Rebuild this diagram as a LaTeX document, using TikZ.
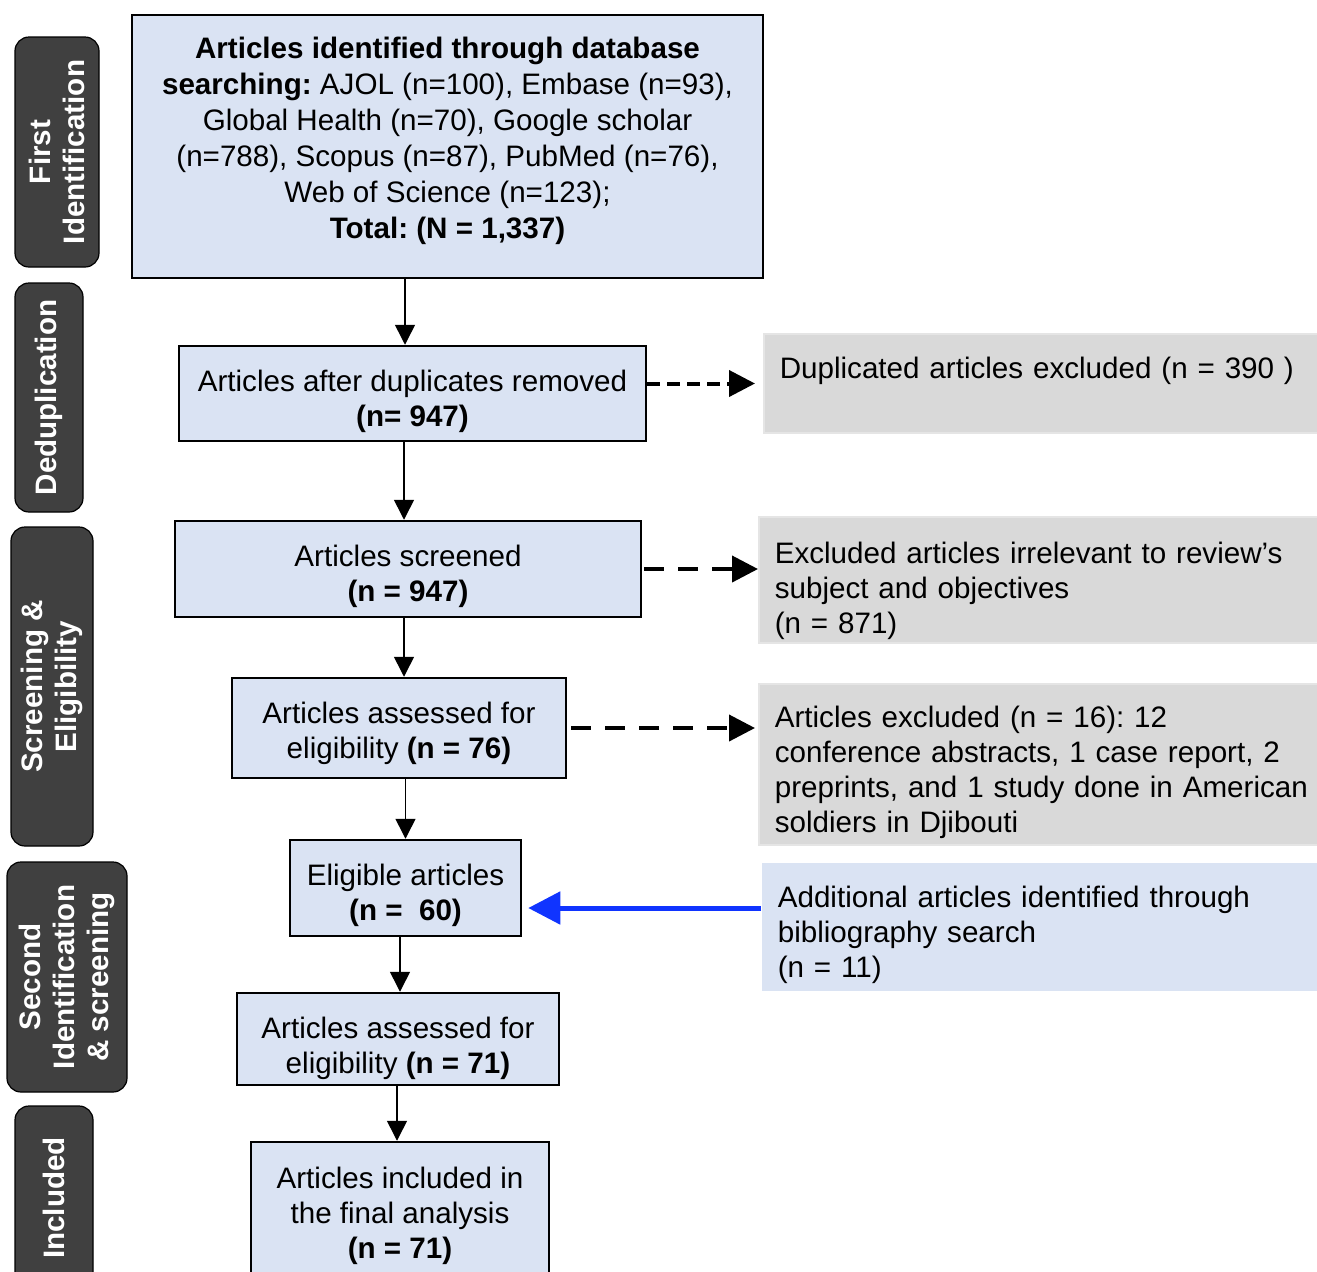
\documentclass[tikz,border=0pt]{standalone}
\usepackage{fontspec}
\setmainfont{Liberation Sans}
\usepackage{tikz}
\usetikzlibrary{positioning}
\usetikzlibrary{arrows.meta}

\definecolor{boxblue}{RGB}{218,227,243}
\definecolor{boxgrey}{RGB}{217,217,217}
\definecolor{phasegrey}{RGB}{64,64,64}
\definecolor{addblue}{RGB}{16,52,255}

\frenchspacing
\hyphenpenalty=10000
\exhyphenpenalty=10000
% pushes a first line down / a last line up
\newcommand{\toppad}[1]{\rule{0pt}{#1}}
\newcommand{\botpad}[1]{\rule[-#1]{0pt}{#1}}

\begin{document}
\begin{tikzpicture}[x=0.5pt,y=-0.5pt,
  font=\fontsize{14.8pt}{17.5pt}\selectfont,
  main box/.style={draw,line width=1.25pt,fill=boxblue,align=center,inner xsep=4pt,inner ysep=1pt},
  side box/.style={fill=boxgrey,draw=black!10,line width=0.8pt,align=left,inner xsep=8pt,inner ysep=0pt,anchor=west},
  phase/.style={draw,line width=0.6pt,fill=phasegrey,rounded corners=7pt,rotate=90,text=white,align=center,
    font=\fontsize{14.8pt}{16.8pt}\selectfont\bfseries},
  flow/.style={-{Triangle[length=10pt,width=10pt]},line width=0.75pt},
  excl/.style={-{Triangle[length=13pt,width=13pt]},line width=2pt,dash pattern=on 10pt off 7pt},
  extra/.style={-{Triangle[length=16pt,width=16pt]},line width=2.5pt,draw=addblue}]
\useasboundingbox (0,0) rectangle (1317,1271);

% phases on the left
\node[phase,minimum width=115pt,minimum height=42pt] at (57,152) (firstid) {First\\Identification};
\node[phase,minimum width=114.5pt,minimum height=34pt] at (49,397.5) (dedupphase) {Deduplication};
\node[phase,minimum width=159.5pt,minimum height=41pt] at (52,686.5) (screenphase) {Screening \&\\Eligibility};
\node[phase,minimum width=115pt,minimum height=60pt] at (67,977) (secondid) {Second\\Identification\\\& screening};
\node[phase,minimum width=92pt,minimum height=39pt] at (54,1198) (inclphase) {Included};

% main flow
\node[main box,minimum width=315.5pt,minimum height=131.5pt,font=\fontsize{14.8pt}{18pt}\selectfont] at (447.5,146.5) (ident)
  {\textbf{Articles identified through database}\\\textbf{searching:} AJOL (n=100), Embase (n=93),\\Global Health (n=70), Google scholar\\(n=788), Scopus (n=87), PubMed (n=76),\\Web of Science (n=123);\\\textbf{Total: (N = 1,337)}\botpad{8.5pt}};
\node[main box,minimum width=233.5pt,minimum height=47.5pt] at (412.5,393.5) (dedup) {\toppad{19pt}Articles after duplicates removed\\\textbf{(n= 947)}};
\node[main box,minimum width=233pt,minimum height=48pt] at (408,569) (screened) {\toppad{18pt}Articles screened\\\textbf{(n = 947)}};
\node[main box,minimum width=167pt,minimum height=50pt] at (399,728) (assessed) {\toppad{16pt}Articles assessed for\\eligibility \textbf{(n = 76)}};
\node[main box,minimum width=115.5pt,minimum height=48pt] at (405.5,888) (eligible) {\toppad{18pt}Eligible articles\\\textbf{(n =~ 60)}};
\node[main box,minimum width=161pt,minimum height=46pt] at (398,1039) (assessedb) {\toppad{20pt}Articles assessed for\\eligibility \textbf{(n = 71)}};
\node[main box,minimum width=149pt,minimum height=71pt] at (400,1213) (included) {\toppad{14pt}Articles included in\\the final analysis\\\textbf{(n = 71)}};

% side boxes
\node[side box,text width=261pt,text height=14pt,text depth=19.5pt,inner ysep=8pt] at (763,383.5) (dupex) {Duplicated articles excluded (n = 390 )};
\node[side box,text width=264pt,minimum height=63pt] at (758,580) (irrel) {\toppad{22pt}Excluded articles irrelevant to review’s\\subject and objectives\\(n = 871)};
\node[side box,text width=264pt,minimum height=80.5pt] at (758,764.5) (inelig) {\toppad{19pt}Articles excluded (n = 16): 12\\conference abstracts, 1 case report, 2\\\mbox{preprints, and 1 study done in American}\\soldiers in Djibouti};
\node[side box,fill=boxblue,draw=none,text width=262pt,minimum height=64pt] at (761,927) (addl) {\toppad{19pt}Additional articles identified through\\bibliography search\\(n = 11)};

% arrows
\draw[flow] ([xshift=-3.75pt]dedup.north |- ident.south) -- ([xshift=-3.75pt]dedup.north);
\draw[flow] ([xshift=-2pt]screened.north |- dedup.south) -- ([xshift=-2pt]screened.north);
\draw[flow] ([xshift=2.5pt]assessed.north |- screened.south) -- ([xshift=2.5pt]assessed.north);
\draw[flow] (eligible.north |- assessed.south) -- (eligible.north);
\draw[flow] ([xshift=1pt]assessedb.north |- eligible.south) -- ([xshift=1pt]assessedb.north);
\draw[flow] ([xshift=-1.5pt]included.north |- assessedb.south) -- ([xshift=-1.5pt]included.north);

\draw[excl,dash pattern=on 6.5pt off 3.5pt] (dedup.east |- dupex.west) -- ([xshift=-4pt]dupex.west);
\draw[excl,shorten <=1pt] (screened.east) -- (screened.east -| irrel.west);
\draw[excl,shorten <=2pt] (assessed.east) -- ([xshift=-1.5pt]assessed.east -| inelig.west);

\coordinate (bibin) at ([yshift=-10pt]eligible.east);
\draw[extra,shorten >=3pt] (addl.west |- bibin) -- (bibin);
\end{tikzpicture}
\end{document}
